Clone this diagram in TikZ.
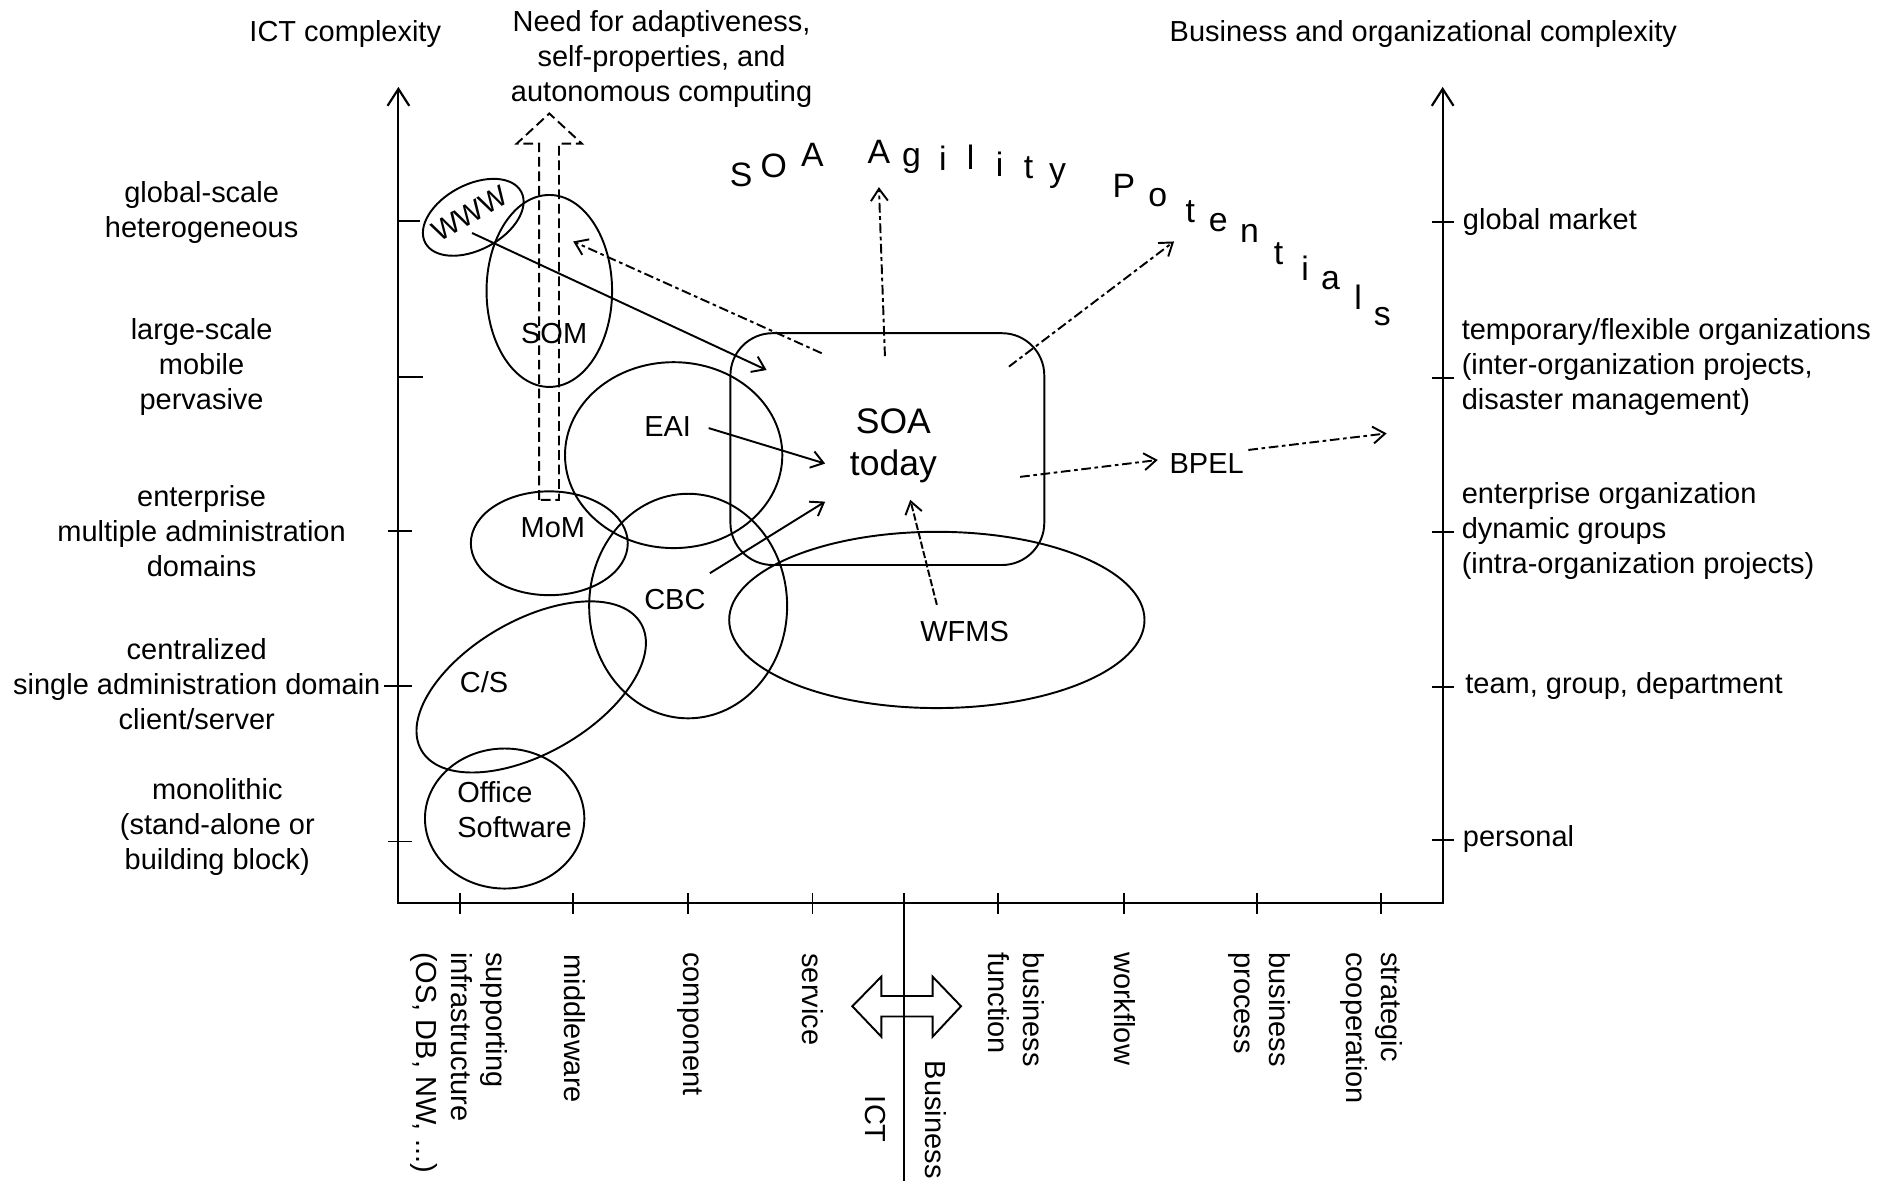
\documentclass[tikz,border=0pt]{standalone}
\usepackage{fontspec}
\setmainfont{Liberation Sans}
\usetikzlibrary{arrows.meta,shapes.geometric}
\begin{document}
\begin{tikzpicture}[x=0.5pt,y=-0.5pt,
  line width=0.8pt,
  txt/.style={font=\fontsize{12}{14.5}\selectfont, inner sep=0pt, align=center},
  ltxt/.style={txt, align=left},
  vtxt/.style={txt, align=left, rotate=-90, anchor=west},
  big/.style={font=\fontsize{14.7}{17.25}\selectfont, inner sep=0pt, align=center},
  arcletter/.style={font=\fontsize{14}{16}\selectfont, inner sep=0pt},
  blob/.style={draw, ellipse, inner sep=0pt},
  barb/.style={-{Straight Barb[length=5pt,width=7pt]}},
  ddash/.style={dash pattern=on 4pt off 1.5pt on 1.5pt off 1.5pt},
  fdash/.style={dash pattern=on 3pt off 1pt},
  axisline/.style={line width=0.9pt},
]
\useasboundingbox (0,0) rectangle (1568,978);

% headings
\node[txt] (ictc) at (286,28) {ICT complexity};
\node[txt] (bocx) at (1179,28) {Business and organizational complexity};
\node[txt] (need) at (548,49) {Need for adaptiveness,\\self-properties, and\\autonomous computing};

% axes
\draw[axisline, {Straight Barb[length=7pt,width=9pt]}-{Straight Barb[length=7pt,width=9pt]}]
  (330,72) -- (330,748) -- (1195,748) -- (1195,72);
\foreach \y/\a/\b in {183/330/348, 312/330/350, 440/321/341, 568/318/341, 697/321/341}
  \draw (\a,\y) -- (\b,\y);
\foreach \y in {184,313,441,569,696}
  \draw (1186,\y) -- (1204,\y);
\foreach \x in {381,475,570,673,827,931,1041,1144}
  \draw (\x,740) -- (\x,757);
\draw (749,740) -- (749,978);

% left scale
\node[txt] (l1) at (167,176) {global-scale\\heterogeneous};
\node[txt] (l2) at (167,304) {large-scale\\mobile\\pervasive};
\node[txt] (l3) at (167,440) {enterprise\\multiple administration\\domains};
\node[txt] (l4) at (163,567) {centralized\\single administration domain\\client/server};
\node[txt] (l5) at (180,685) {monolithic\\(stand-alone or\\building block)};

% right scale
\node[ltxt, anchor=west] (r1) at (1211,184) {global market};
\node[ltxt, anchor=west] (r2) at (1210,304) {temporary/flexible organizations\\(inter-organization projects,\\disaster management)};
\node[ltxt, anchor=west] (r3) at (1210,440) {enterprise organization\\dynamic groups\\(intra-organization projects)};
\node[ltxt, anchor=west] (r4) at (1213,568) {team, group, department};
\node[ltxt, anchor=west] (r5) at (1211,695) {personal};

% bottom scale
\node[vtxt] (b1) at (380,788) {supporting\\infrastructure\\(OS, DB, NW, ...)};
\node[vtxt] (b2) at (476,790) {middleware};
\node[vtxt] (b3) at (571,788) {component};
\node[vtxt] (b4) at (673,789) {service};
\node[vtxt] (b5) at (842,788) {business\\function};
\node[vtxt] (b6) at (932,788) {workflow};
\node[vtxt] (b7) at (1043,788) {business\\process};
\node[vtxt] (b8) at (1136,788) {strategic\\cooperation};
\node[vtxt] (ict) at (725,907) {ICT};
\node[vtxt] (bus) at (775,878) {Business};

% two-headed block arrow between ICT and Business
\draw (706,833.5) -- (730,809) -- (730,825) -- (772.5,825) -- (772.5,809) -- (796,833.5)
  -- (772.5,858.7) -- (772.5,842) -- (730,842) -- (730,858.7) -- cycle;

% dashed block arrow towards autonomous computing
\draw[dash pattern=on 4pt off 2pt] (446.5,414) -- (446.5,119) -- (428,119) -- (455,94)
  -- (482,119) -- (463,119) -- (463,414) -- cycle;

% technology areas
\node[blob, minimum width=45pt, minimum height=27pt, rotate=28] (www) at (392,180) {};
\node[txt, rotate=30] (wwwl) at (389,177) {WWW};
\node[blob, minimum width=52pt, minimum height=79.5pt] (som) at (455,241) {};
\node[txt] (soml) at (459,276) {SOM};
\node[blob, minimum width=90pt, minimum height=77pt] (eai) at (558,377) {};
\node[txt] (eail) at (553,353) {EAI};
\node[blob, minimum width=65pt, minimum height=43pt] (mom) at (455,450) {};
\node[txt] (moml) at (458,437) {MoM};
\node[blob, minimum width=82pt, minimum height=93pt] (cbc) at (570,502) {};
\node[txt] (cbcl) at (559,497) {CBC};
\node[blob, minimum width=105pt, minimum height=55pt, rotate=30] (cs) at (440,569) {};
\node[txt] (csl) at (401,565) {C/S};
\node[blob, minimum width=66pt, minimum height=58pt] (office) at (418,678) {};
\node[ltxt, anchor=west] (officel) at (378,671) {Office\\Software};
\node[blob, minimum width=172pt, minimum height=73pt] (wfms) at (776,513.5) {};
\node[txt] (wfmsl) at (799,523.5) {WFMS};

% SOA today
\node[draw, rounded corners=17.5pt, minimum width=130pt, minimum height=96pt, inner sep=0pt] (soabox) at (735,372) {};
\node[big] (soa) at (740,369) {SOA\\today};
\node[txt] (bpel) at (999.5,383.6) {BPEL};

% arrow end points
\coordinate (a1s) at (391,193);     \coordinate (a1e) at (635,306.5);
\coordinate (a2s) at (680.6,292.6); \coordinate (a2e) at (474.8,200);
\coordinate (a3s) at (733,295);     \coordinate (a3e) at (728,155);
\coordinate (a4s) at (835.7,303.7); \coordinate (a4e) at (972.5,200);
\coordinate (a5s) at (587,354.6);   \coordinate (a5e) at (683.5,384);
\coordinate (a6s) at (588,474.8);   \coordinate (a6e) at (683.5,415.5);
\coordinate (a7s) at (776,501);     \coordinate (a7e) at (754,414);
\coordinate (a8s) at (845,395);     \coordinate (a8e) at (959,381);
\coordinate (a9s) at (1034,372.7);  \coordinate (a9e) at (1148.6,359);

\draw[barb] (a1s) -- (a1e);
\draw[barb, ddash] (a2s) -- (a2e);
\draw[barb, ddash] (a3s) -- (a3e);
\draw[barb, ddash] (a4s) -- (a4e);
\draw[barb] (a5s) -- (a5e);
\draw[barb] (a6s) -- (a6e);
\draw[barb, fdash] (a7s) -- (a7e);
\draw[barb, ddash] (a8s) -- (a8e);
\draw[barb, ddash] (a9s) -- (a9e);

% arched caption
\foreach \c/\x/\y [count=\i] in {S/614/145, O/641/137, A/673/128, A/728/126, g/755/133,
    i/781/131, l/804/130, i/828/136, t/852/139, y/876/146, P/931/154, o/959/164,
    t/986/175, e/1009/184, n/1035/193, t/1059/210, i/1081/222, a/1102/232, l/1125/246, s/1145/262}
  \node[arcletter] (ag\i) at (\x,\y) {\c};
\end{tikzpicture}
\end{document}
